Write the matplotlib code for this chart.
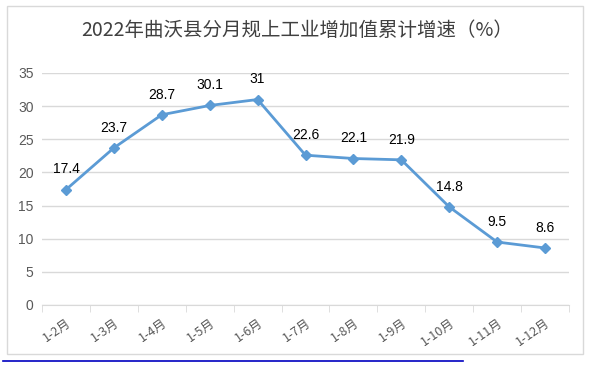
import matplotlib
matplotlib.use("Agg")
import matplotlib.pyplot as plt
from matplotlib.patches import Rectangle
from matplotlib.lines import Line2D

plt.rcParams['font.family'] = ['Noto Sans CJK SC', 'DejaVu Sans']

categories = ["1-2月", "1-3月", "1-4月", "1-5月", "1-6月", "1-7月", "1-8月", "1-9月", "1-10月", "1-11月", "1-12月"]
values = [17.4, 23.7, 28.7, 30.1, 31, 22.6, 22.1, 21.9, 14.8, 9.5, 8.6]
value_labels = ["17.4", "23.7", "28.7", "30.1", "31", "22.6", "22.1", "21.9", "14.8", "9.5", "8.6"]
yticks = [0, 5, 10, 15, 20, 25, 30, 35]
title = "2022年曲沃县分月规上工业增加值累计增速（%）"

W, H = 591, 365
fig = plt.figure(figsize=(W / 100, H / 100), dpi=100)
fig.patch.set_facecolor("white")

# chart frame
fig.patches.append(Rectangle((7 / W, 1 - 354 / H), (583 - 7) / W, (354 - 6) / H,
                             transform=fig.transFigure, fill=False,
                             edgecolor="#D9D9D9", linewidth=1.0))
# blue line under chart
fig.lines.append(Line2D([3 / W, 463 / W], [1 - 361 / H, 1 - 361 / H],
                        transform=fig.transFigure, color="#0000C0", linewidth=1.2))

left, right, top, bottom = 42, 569, 73, 305
ax = fig.add_axes([left / W, 1 - bottom / H, (right - left) / W, (bottom - top) / H])
x = list(range(len(categories)))
ax.plot(x, values, color="#5B9BD5", linewidth=2.0, marker="D", markersize=5,
        markerfacecolor="#5B9BD5", markeredgecolor="#5B9BD5", zorder=3)

for xi, v, lab in zip(x, values, value_labels):
    ax.annotate(lab, (xi, v), xytext=(0, 9.5), textcoords="offset points",
                ha="center", va="bottom", fontsize=10, color="#000000",
                family=["Liberation Sans"])

ax.set_xlim(-0.5, len(categories) - 0.5)
ax.set_ylim(0, 35)
ax.set_yticks(yticks)
ax.set_yticklabels([str(t) for t in yticks], fontsize=10, color="#595959",
                   family=["Liberation Sans"])
ax.tick_params(axis="y", length=0, pad=6)
ax.grid(axis="y", color="#D9D9D9", linewidth=1.0)
ax.set_axisbelow(True)

ax.set_xticks(x)
ax.set_xticklabels(categories, rotation=35, ha="right", rotation_mode="anchor",
                   fontsize=9, color="#595959")
ax.tick_params(axis="x", length=0, pad=8)
ax.set_xticks([i - 0.5 for i in range(len(categories) + 1)], minor=True)
ax.tick_params(axis="x", which="minor", length=5, color="#D9D9D9", direction="out")

for s in ["top", "right", "left"]:
    ax.spines[s].set_visible(False)
ax.spines["bottom"].set_color("#D9D9D9")

fig.text(297 / W, 1 - 30 / H, title, ha="center", va="center", fontsize=14,
         color="#404040")

fig.savefig("out.png", dpi=100)
